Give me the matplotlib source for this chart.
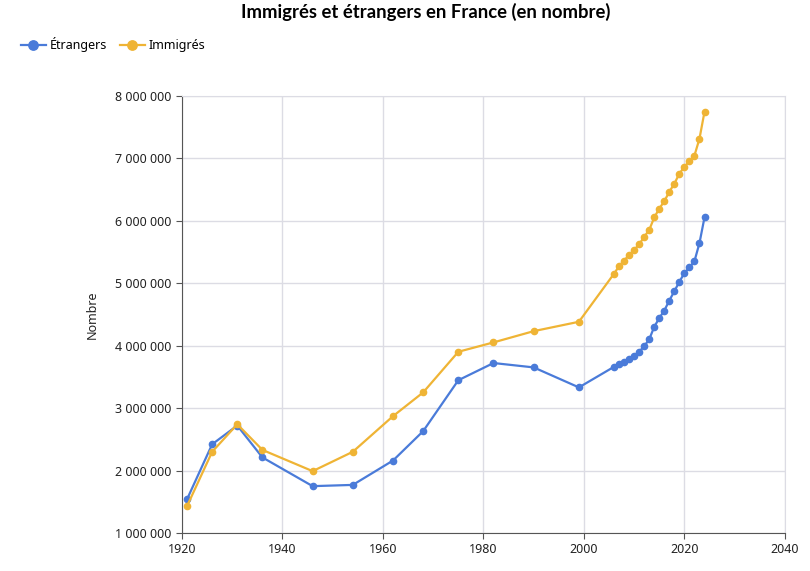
import matplotlib
matplotlib.use('Agg')
import matplotlib.pyplot as plt
from matplotlib.ticker import FuncFormatter, MultipleLocator

plt.rcParams['font.family'] = ['Noto Sans', 'DejaVu Sans']

# données
annees = [1921, 1926, 1931, 1936, 1946, 1954, 1962, 1968, 1975, 1982, 1990, 1999,
          2006, 2007, 2008, 2009, 2010, 2011, 2012, 2013, 2014, 2015, 2016, 2017,
          2018, 2019, 2020, 2021, 2022, 2023, 2024]
etrangers = [1540000, 2420000, 2720000, 2210000, 1750000, 1770000, 2160000, 2630000,
             3445000, 3720000, 3650000, 3330000,
             3660000, 3700000, 3730000, 3780000, 3830000, 3900000, 3990000, 4100000,
             4300000, 4440000, 4560000, 4720000, 4870000, 5020000, 5160000, 5250000,
             5350000, 5640000, 6050000]
immigres = [1430000, 2300000, 2740000, 2330000, 1990000, 2300000, 2870000, 3250000,
            3900000, 4050000, 4230000, 4380000,
            5150000, 5270000, 5360000, 5450000, 5530000, 5620000, 5740000, 5850000,
            6050000, 6190000, 6310000, 6460000, 6590000, 6750000, 6860000, 6950000,
            7040000, 7310000, 7740000]

bleu = '#4a7bd9'
jaune = '#efb435'

fig = plt.figure(figsize=(8.1, 5.71), dpi=100)
ax = fig.add_axes([0.2247, 0.0665, 0.7443, 0.7662])

ax.plot(annees, etrangers, color=bleu, lw=1.6, marker='o', ms=4.5, label='Étrangers', zorder=3)
ax.plot(annees, immigres, color=jaune, lw=1.6, marker='o', ms=4.5, label='Immigrés', zorder=3)

ax.set_xlim(1920, 2040)
ax.set_ylim(1000000, 8000000)
ax.xaxis.set_major_locator(MultipleLocator(20))
ax.yaxis.set_major_locator(MultipleLocator(1000000))
ax.yaxis.set_major_formatter(FuncFormatter(lambda v, p: f'{int(v):,}'.replace(',', ' ')))

ax.grid(True, color='#dcdce4', lw=1)
ax.set_axisbelow(True)
for s in ['top', 'right']:
    ax.spines[s].set_color('#dcdce4')
for s in ['left', 'bottom']:
    ax.spines[s].set_color('#555555')
ax.tick_params(colors='#555555', labelcolor='#222222', labelsize=9, length=4)

ax.set_ylabel('Nombre', fontsize=9, color='#222222', labelpad=12)

fig.suptitle('Immigrés et étrangers en France (en nombre)', fontsize=13.3,
             fontweight='bold', family=['Lato', 'DejaVu Sans'], x=0.525, y=0.995)
leg = fig.legend(loc='upper left', bbox_to_anchor=(0.012, 0.955), ncol=2, frameon=False,
                 fontsize=9, handlelength=2.0, handletextpad=0.3, columnspacing=1.0,
                 markerscale=1.5)

fig.savefig('out.png', dpi=100)
